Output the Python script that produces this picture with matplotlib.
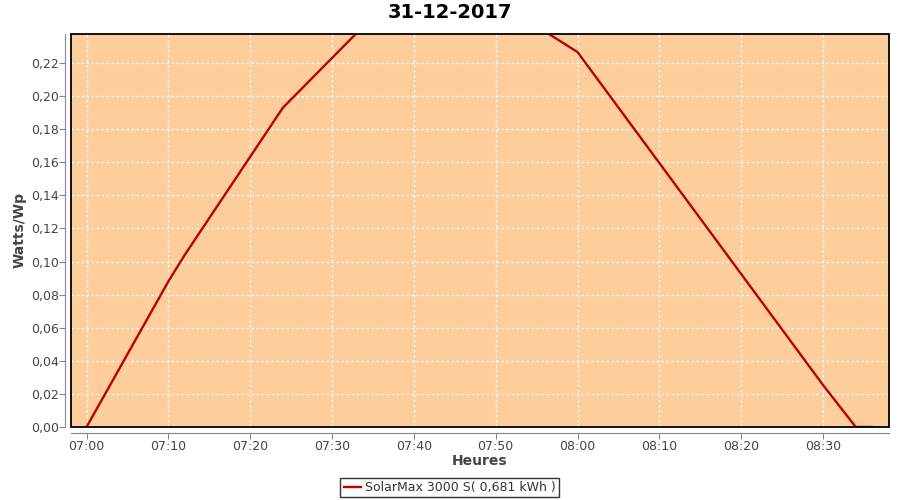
import matplotlib
matplotlib.use("Agg")
import matplotlib.pyplot as plt
import matplotlib.dates as mdates
from matplotlib.patches import Rectangle
from matplotlib.ticker import FuncFormatter
import pandas as pd

# ─────────────────────────────────────────
# Data
# ─────────────────────────────────────────
times = ["07:00", "07:10", "07:12", "07:24", "07:36", "07:48",
         "08:00", "08:30", "08:34", "08:36"]
watts_wp = [0.000, 0.088, 0.104, 0.193, 0.253, 0.264,
            0.2266, 0.0254, 0.000, 0.000]
y_ticks = [0.00, 0.02, 0.04, 0.06, 0.08, 0.10, 0.12, 0.14, 0.16, 0.18, 0.20, 0.22]
x_range = ("06:58:06", "08:38:04")
y_range = (0.0, 0.2375)

title = "31-12-2017"
legend_label = "SolarMax 3000 S( 0,681 kWh )"

day = "2017-12-31 "
t = pd.to_datetime([day + s for s in times])

# ─────────────────────────────────────────
# Plot
# ─────────────────────────────────────────
fig = plt.figure(figsize=(9, 5), dpi=100)
ax = fig.add_axes([71 / 900, 1 - 427 / 500, 818 / 900, 393 / 500])
ax.set_facecolor("#fdcd9c")

line, = ax.plot(t, watts_wp, color="#bb0000", lw=1.7, label=legend_label)

ax.set_xlim(pd.to_datetime(day + x_range[0]), pd.to_datetime(day + x_range[1]))
ax.set_ylim(*y_range)
ax.set_yticks(y_ticks)
ax.yaxis.set_major_formatter(FuncFormatter(lambda v, p: f"{v:.2f}".replace(".", ",")))
ax.xaxis.set_major_locator(mdates.MinuteLocator(byminute=range(0, 60, 10)))
ax.xaxis.set_major_formatter(mdates.DateFormatter("%H:%M"))

ax.grid(True, color="white", linestyle=(0, (2, 2)), linewidth=0.9)
ax.set_axisbelow(True)

for side in ("top", "right"):
    ax.spines[side].set_visible(False)
for side in ("left", "bottom"):
    ax.spines[side].set_position(("outward", 4))
    ax.spines[side].set_color("#888888")
ax.add_patch(Rectangle((0, 0), 1, 1, transform=ax.transAxes, fill=False,
                       edgecolor="black", lw=1.3, clip_on=False, zorder=5))

ax.tick_params(colors="#888888", labelcolor="#444444", labelsize=9, length=4)
ax.tick_params(axis="x", pad=1)
ax.tick_params(axis="y", pad=0.5)

ax.set_xlabel("Heures", fontsize=10, fontweight="bold", color="#444444", labelpad=1)
ax.set_ylabel("Watts/Wp", fontsize=10, fontweight="bold", color="#444444", labelpad=3)
fig.text(0.5, 1 - 13 / 500, title, ha="center", va="center",
         fontsize=14, fontweight="bold")

leg = fig.legend(handles=[line], loc="center", bbox_to_anchor=(449.5 / 900, 1 - 487.5 / 500),
                 fontsize=9, frameon=True, fancybox=False, handlelength=1.4,
                 handletextpad=0.3, borderpad=0.25, borderaxespad=0)
leg.get_frame().set_edgecolor("black")
leg.get_frame().set_linewidth(1.0)
for txt in leg.get_texts():
    txt.set_color("#333333")

fig.savefig("out.png", dpi=100)
